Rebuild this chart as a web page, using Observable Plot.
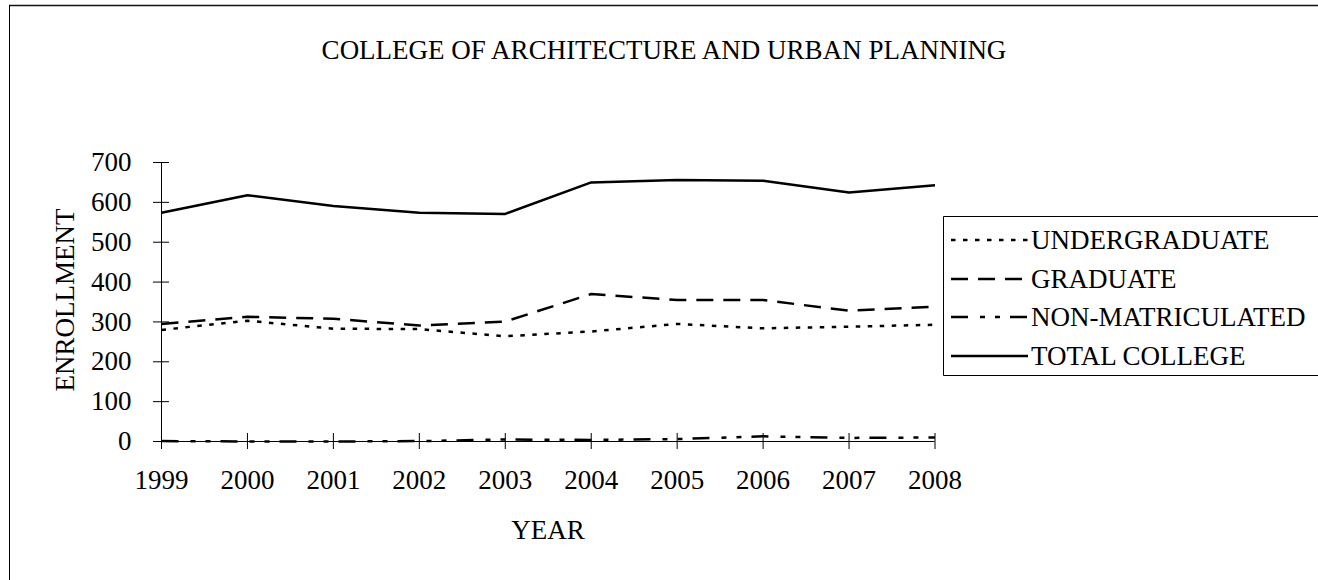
<!DOCTYPE html>
<html>
<head>
<meta charset="utf-8">
<script src="https://cdn.jsdelivr.net/npm/d3@7"></script>
<script src="https://cdn.jsdelivr.net/npm/@observablehq/plot@0.6"></script>
<style>
  html, body { margin: 0; padding: 0; background: #fff; overflow: hidden; }
  #wrap { width: 1318px; height: 580px; position: relative; overflow: hidden; font-family: "Liberation Serif", "Times New Roman", serif; }
  #chart { position: absolute; left: 0; top: 0; }
  .lbl { position: absolute; font-size: 27px; color: #000; white-space: nowrap; line-height: 1; }
  #legend { position: absolute; left: 0; top: 0; }
</style>
</head>
<body>
<div id="wrap">
<div id="chart"></div>
<div class="lbl" id="title" style="left:664px; top:50px; transform:translate(-50%,-50%);">COLLEGE OF ARCHITECTURE AND URBAN PLANNING</div>
<div class="lbl" id="ylab" style="left:65px; top:300px; transform:translate(-50%,-50%) rotate(-90deg);">ENROLLMENT</div>
<div class="lbl" id="xlab" style="left:548px; top:530px; transform:translate(-50%,-50%);">YEAR</div>
<svg id="legend" width="1318" height="580"></svg>
</div>
<script>
const years = [1999, 2000, 2001, 2002, 2003, 2004, 2005, 2006, 2007, 2008];
const undergraduate = [280, 303, 283, 282, 264, 276, 295, 284, 288, 293];
const graduate = [295, 313, 308, 291, 301, 370, 355, 355, 328, 338];
const nonMatriculated = [1, 0, 0, 1, 5, 4, 6, 13, 9, 10];
const totalCollege = [574, 618, 591, 574, 571, 650, 656, 654, 625, 643];
const yTicks = [0, 100, 200, 300, 400, 500, 600, 700];
const seriesNames = ["UNDERGRADUATE", "GRADUATE", "NON-MATRICULATED", "TOTAL COLLEGE"];

const dashes = {
  "UNDERGRADUATE": "4.5,7.5",
  "GRADUATE": "17,10",
  "NON-MATRICULATED": "17,12,5,10,5,10",
  "TOTAL COLLEGE": null
};

const seriesValues = [undergraduate, graduate, nonMatriculated, totalCollege];
const rows = seriesNames.map((name, i) => years.map((yr, j) => ({series: name, year: yr, value: seriesValues[i][j]})));

const marks = [
  Plot.ruleX([1999], {stroke: "#000", strokeWidth: 1}),
  Plot.ruleY([0], {stroke: "#000", strokeWidth: 1}),
  Plot.axisY({ticks: yTicks, tickSize: 16, dx: 8, tickPadding: 22, label: null, tickFormat: d => String(d)}),
  Plot.axisX({ticks: years, tickSize: 16, dy: -8, tickPadding: 20, label: null, tickFormat: d => String(d)})
];
rows.forEach((data, i) => {
  const name = seriesNames[i];
  const opts = {x: "year", y: "value", stroke: "#000", strokeWidth: 2.5, strokeLinejoin: "miter", strokeLinecap: "butt"};
  if (dashes[name]) opts.strokeDasharray = dashes[name];
  marks.push(Plot.line(data, opts));
});

const chart = Plot.plot({
  width: 1318,
  height: 580,
  marginLeft: 161,
  marginRight: 383.5,
  marginTop: 162,
  marginBottom: 139,
  style: {fontFamily: "'Liberation Serif', 'Times New Roman', serif", fontSize: "27px", color: "#000", background: "transparent"},
  x: {type: "linear", domain: [1999, 2008]},
  y: {domain: [0, 700]},
  marks
});
document.getElementById("chart").appendChild(chart);

// outer frame (top and left edges only; right/bottom lie outside the picture)
const svg = d3.select("#legend");
svg.append("line").attr("x1", 9).attr("x2", 1318).attr("y1", 5.5).attr("y2", 5.5).attr("stroke", "#111").attr("stroke-width", 1.5);
svg.append("line").attr("x1", 9.5).attr("x2", 9.5).attr("y1", 5).attr("y2", 580).attr("stroke", "#000").attr("stroke-width", 1);

// legend
svg.append("path").attr("d", "M1318,216.5 H943.5 V375.5 H1318")
  .attr("fill", "#fff").attr("stroke", "#000").attr("stroke-width", 1);
const rowY = [240, 279, 317, 356];
seriesNames.forEach((name, i) => {
  const ln = svg.append("line").attr("x1", 951).attr("x2", 1028).attr("y1", rowY[i]).attr("y2", rowY[i])
    .attr("stroke", "#000").attr("stroke-width", 2.5);
  if (dashes[name]) ln.attr("stroke-dasharray", dashes[name]);
  svg.append("text").attr("x", 1031).attr("y", rowY[i]).attr("dy", "0.35em")
    .attr("font-family", "'Liberation Serif', 'Times New Roman', serif").attr("font-size", 27)
    .attr("fill", "#000").text(name);
});
</script>
</body>
</html>
